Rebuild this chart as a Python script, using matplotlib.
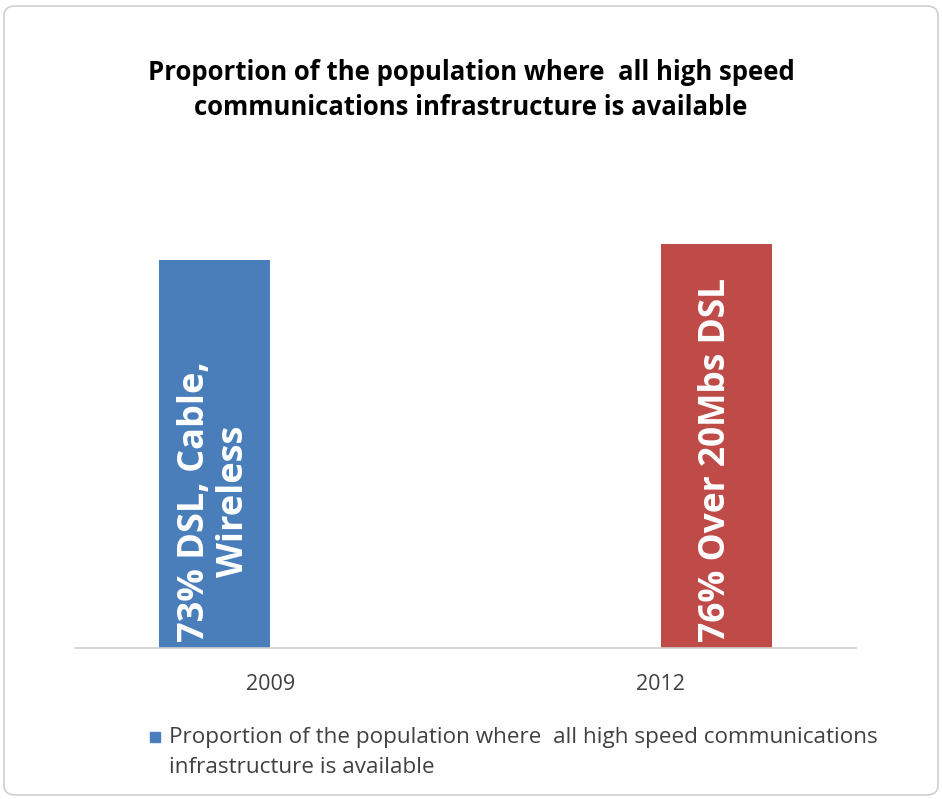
import matplotlib.pyplot as plt
from matplotlib.patches import FancyBboxPatch, Rectangle

years = ["2009", "2012"]
series_2009 = [73, 0]
series_2012 = [0, 76]
bar_labels = ["73% DSL, Cable,\nWireless", "76% Over 20Mbs DSL"]
title = "Proportion of the population where  all high speed\ncommunications infrastructure is available"
legend_label = ("Proportion of the population where  all high speed communications\n"
                "infrastructure is available")

plt.rcParams["font.family"] = ["Open Sans", "DejaVu Sans"]

W, H = 942, 799
fig = plt.figure(figsize=(W / 100, H / 100), dpi=100)

# rounded frame around the whole chart
frame = FancyBboxPatch((4 / W, 4 / H), 1 - 8 / W, 1 - 10 / H,
                       boxstyle="round,pad=0,rounding_size=0.012",
                       transform=fig.transFigure, facecolor="white",
                       edgecolor="#cfcfcf", linewidth=1.2, zorder=-5)
fig.patches.append(frame)

ax = fig.add_axes([75 / W, (H - 648) / H, (856 - 75) / W, (648 - 223) / H])
ax.patch.set_alpha(0)
ax.set_xlim(-0.5, 1.5)
ax.set_ylim(0, 80)

x = range(len(years))
w = 0.284
b1 = ax.bar([i - w / 2 for i in x], series_2009, width=w, color="#4a7ebb")
b2 = ax.bar([i + w / 2 for i in x], series_2012, width=w, color="#be4b48")

ax.text(0 - w / 2, 1.2, bar_labels[0], rotation=90, ha="center", va="bottom",
        color="white", fontsize=26, fontweight="bold", linespacing=1.12,
        multialignment="center")
ax.text(1 + w / 2, 1.2, bar_labels[1], rotation=90, ha="center", va="bottom",
        color="white", fontsize=25.5, fontweight="bold")

ax.set_xticks(list(x))
ax.set_xticklabels(years, fontsize=15.5, color="#404040")
ax.tick_params(axis="x", length=0, pad=19)
ax.set_yticks([])
for s in ["top", "left", "right"]:
    ax.spines[s].set_visible(False)
ax.spines["bottom"].set_color("#d0d0d0")
ax.spines["bottom"].set_linewidth(1.2)

fig.text(471 / W, 1 - 90 / H, title, ha="center", va="center",
         fontsize=18.5, fontweight="bold", color="black", linespacing=1.4)

# legend: blue square next to the first line of the series name
fig.add_artist(Rectangle((150 / W, 1 - 742 / H), 10 / W, 10 / H,
                         transform=fig.transFigure, color="#4a7ebb"))
fig.text(169 / W, 1 - 727 / H, legend_label, ha="left", va="top",
         fontsize=16.2, color="#404040", linespacing=1.55)

fig.savefig("out.png", dpi=100)
